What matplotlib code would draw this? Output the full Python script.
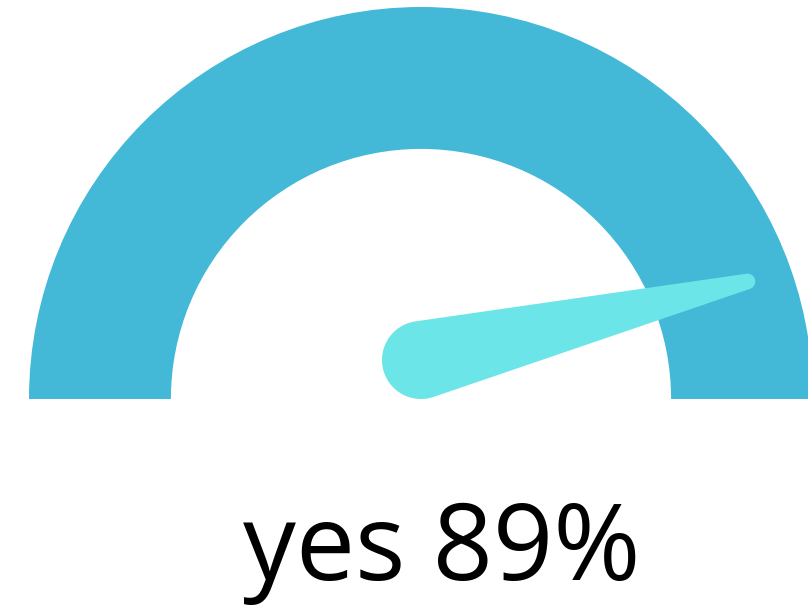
import matplotlib
matplotlib.use('Agg')
import matplotlib.pyplot as plt
from matplotlib.patches import Wedge, Polygon
import numpy as np

label = 'yes'
value = 89          # percent
vmin, vmax = 0, 100

gauge_color = '#43B8D7'
needle_color = '#6BE5E8'

fig = plt.figure(figsize=(8.08, 6.06), dpi=100)
ax = fig.add_axes([0, 0, 1, 1])

# scale: outer radius = 1, gauge centre at (0, 0)
px = 392.0
ax.set_xlim(-421 / px, (808 - 421) / px)
ax.set_ylim(-(606 - 399) / px, 399 / px)
ax.set_aspect('equal')
ax.axis('off')

# gauge band
ax.add_patch(Wedge((0, 0), 1.0, 0, 180, width=0.362, color=gauge_color, lw=0))

# needle: round hub joined to a small rounded tip
frac = (value - vmin) / (vmax - vmin)
theta = np.radians(180 - frac * 180)
tip = np.array([0.885 * np.cos(theta), 0.885 * np.sin(theta)])
R, r = 0.0995, 0.02
hub = np.array([0.0, R])
d = tip - hub
dist = np.hypot(*d)
phi = np.arctan2(d[1], d[0])
alpha = np.arccos((R - r) / dist)
a_hub = np.linspace(phi + alpha, phi + 2 * np.pi - alpha, 80)
a_tip = np.linspace(phi - alpha, phi + alpha, 30)
pts = np.vstack([
    np.column_stack([hub[0] + R * np.cos(a_hub), hub[1] + R * np.sin(a_hub)]),
    np.column_stack([tip[0] + r * np.cos(a_tip), tip[1] + r * np.sin(a_tip)]),
])
ax.add_patch(Polygon(pts, closed=True, color=needle_color, lw=0, zorder=3))

ax.text(21 / px, -(580 - 399) / px, f'{label} {value}%', ha='center', va='baseline',
        fontsize=76, family='Open Sans', color='black')

fig.savefig('out.png', dpi=100)
